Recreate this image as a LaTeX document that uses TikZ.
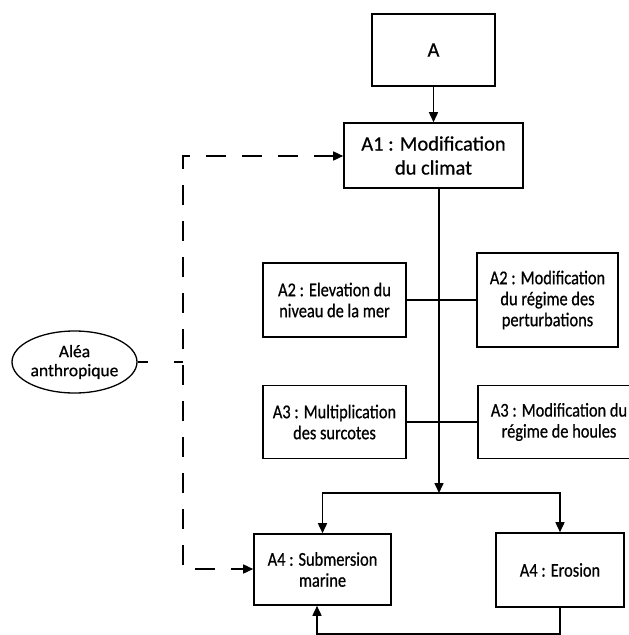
\documentclass[tikz,border=0pt]{standalone}
\usepackage{fontspec}
\setmainfont{Carlito}[FakeBold=0.6]
\newfontfamily\condfont[FakeStretch=0.84,FakeBold=0.6]{Carlito}
\newfontfamily\mainfakebold[FakeBold=0.6]{Carlito}
\usetikzlibrary{arrows.meta,shapes.geometric}
\tikzset{
  box/.style={draw, line width=1.6pt, rectangle, align=center, inner sep=2pt},
  bigtxt/.style={font=\mainfakebold\fontsize{20.5}{24}\selectfont},
  smalltxt/.style={font=\condfont\fontsize{19.5}{21}\selectfont},
  conn/.style={line width=1.6pt},
  arr/.style={conn, -{Triangle[length=10pt,width=9pt]}},
  dsh/.style={line width=1.6pt, dash pattern=on 20pt off 16pt},
}
\begin{document}
\begin{tikzpicture}[x=1pt,y=-1pt]
\useasboundingbox (0,0) rectangle (629,635);
\clip (0,0) rectangle (629,635);
\fill[white] (0,0) rectangle (629,635);
% boxes
\node[box,bigtxt,minimum width=123pt,minimum height=72pt] (A) at (433.5,50) {A};
\node[box,bigtxt,minimum width=179pt,minimum height=65pt] (A1) at (433.5,155.5) {A1 : Modification\\du climat};
\node[box,smalltxt,minimum width=143pt,minimum height=74pt] (A2L) at (334.5,300) {A2 : Elevation du\\niveau de la mer};
\node[box,smalltxt,minimum width=141pt,minimum height=94pt] (A2R) at (547.5,300) {A2 : Modification\\du régime des\\perturbations};
\node[box,smalltxt,minimum width=143pt,minimum height=73pt] (A3L) at (334.5,422) {A3 : Multiplication\\des surcotes};
\node[box,smalltxt,minimum width=162pt,minimum height=73pt] (A3R) at (559,422) {A3 : Modification du\\régime de houles};
\node[box,smalltxt,minimum width=137pt,minimum height=71pt] (A4L) at (322.5,569.5) {A4 : Submersion\\marine};
\node[box,smalltxt,minimum width=128pt,minimum height=74pt] (A4R) at (560,570) {A4 : Erosion};
\node[draw,line width=1.3pt,ellipse,minimum width=125pt,minimum height=62pt,inner sep=0pt,align=center,font=\mainfakebold\fontsize{17.5}{19}\selectfont] (E) at (74.5,362) {Aléa\\anthropique};
% coordinates
\coordinate (j) at (439,493);
\coordinate (c1) at (183,156);
\coordinate (c2) at (183,569);
\coordinate (b) at (317,634);
% connectors
\draw[arr] (A) -- (A1);
\draw[arr] (A1.south -| j) -- (j);
\draw[arr] (j) -| (A4L.north);
\draw[arr] (j) -| (A4R.north);
\draw[conn] (A2L) -- (A2R);
\draw[conn] (A3L) -- (A3R);
\draw[arr] (A4R.south) |- (b) -- (b |- A4L.south);
% dashed
\draw[dsh,{Triangle[length=10pt,width=9pt]}-{Triangle[length=10pt,width=9pt]}] (A1.west |- c1) -- (c1) -- (c2) -- (A4L.west |- c2);
\draw[line width=1.6pt, dash pattern=on 10pt off 26pt] (E.east) -- (E.east -| c1);
\end{tikzpicture}
\end{document}
